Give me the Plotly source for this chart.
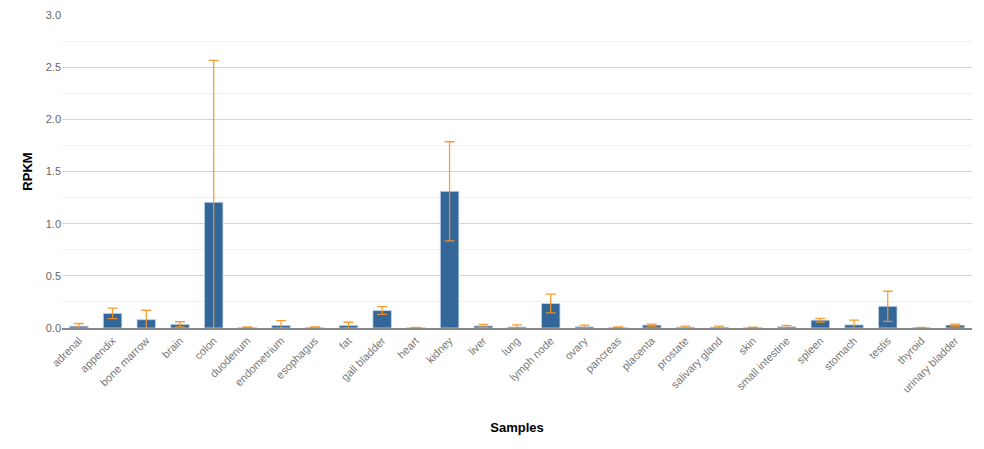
import plotly.graph_objects as go

samples = ["adrenal", "appendix", "bone marrow", "brain", "colon", "duodenum",
           "endometrium", "esophagus", "fat", "gall bladder", "heart", "kidney",
           "liver", "lung", "lymph node", "ovary", "pancreas", "placenta",
           "prostate", "salivary gland", "skin", "small intestine", "spleen",
           "stomach", "testis", "thyroid", "urinary bladder"]
rpkm = [0.018, 0.14, 0.08, 0.035, 1.205, 0.005, 0.025, 0.005, 0.025, 0.167,
        0.003, 1.31, 0.02, 0.01, 0.235, 0.012, 0.005, 0.028, 0.008, 0.008,
        0.005, 0.012, 0.075, 0.03, 0.208, 0.003, 0.028]
rpkm_err = [0.025, 0.05, 0.09, 0.025, 1.36, 0.005, 0.045, 0.005, 0.03, 0.037,
            0.002, 0.475, 0.015, 0.02, 0.09, 0.015, 0.005, 0.01, 0.01, 0.01,
            0.003, 0.013, 0.018, 0.045, 0.144, 0.002, 0.01]

fig = go.Figure(go.Bar(
    x=samples, y=rpkm,
    marker=dict(color="#336699", line=dict(color="rgba(200,215,235,0.8)", width=1)),
    error_y=dict(type="data", array=rpkm_err, visible=True,
                 color="rgba(247,148,29,0.9)", thickness=1.3, width=5),
    width=0.55,
))

fig.update_layout(
    width=976, height=441,
    margin=dict(l=54, r=12, t=7, b=121),
    plot_bgcolor="white", paper_bgcolor="white",
    font=dict(family="Arial, Liberation Sans, sans-serif", size=11, color="#666"),
    showlegend=False,
    xaxis=dict(
        title=dict(text="<b>Samples</b>", font=dict(size=13, color="#000"), standoff=29),
        tickangle=-45, tickfont=dict(size=11, color="#777"),
        showline=True, linecolor="#888", linewidth=2, ticks="",
        showgrid=False, automargin=False,
    ),
    yaxis=dict(
        title=dict(text="<b>RPKM</b>", font=dict(size=13, color="#000"), standoff=10),
        range=[0, 3.0], dtick=0.5, tickformat=".1f",
        gridcolor="#d4d4d4", gridwidth=1, zeroline=False,
        tickfont=dict(size=11, color="#666"), automargin=False,
        minor=dict(dtick=0.25, showgrid=True, gridcolor="#f0f0f0", gridwidth=1),
    ),
)

fig.write_html("out.html")
